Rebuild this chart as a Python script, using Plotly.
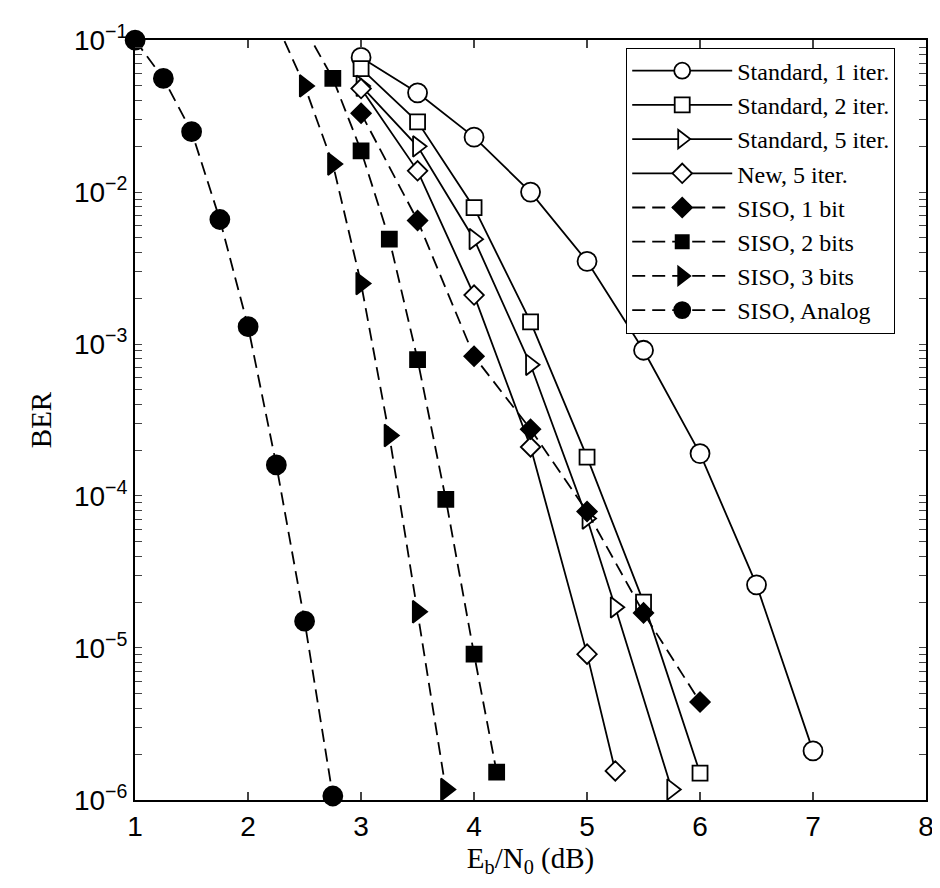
import plotly.graph_objects as go

# Eb/N0 (dB) and BER
x_std1 = [3, 3.5, 4, 4.5, 5, 5.5, 6, 6.5, 7]
ber_std1 = [0.077, 0.045, 0.023, 0.0100, 0.0035, 9.1e-4, 1.9e-4, 2.6e-5, 2.1e-6]

x_std2 = [3, 3.5, 4, 4.5, 5, 5.5, 6]
ber_std2 = [0.065, 0.029, 0.0079, 0.0014, 1.8e-4, 2.0e-5, 1.5e-6]

x_std5 = [3, 3.5, 4, 4.5, 5, 5.25, 5.75]
ber_std5 = [0.050, 0.020, 0.0049, 7.3e-4, 7.1e-5, 1.85e-5, 1.17e-6]

x_new5 = [3, 3.5, 4, 4.5, 5, 5.25]
ber_new5 = [0.048, 0.0138, 0.0021, 2.1e-4, 9.1e-6, 1.55e-6]

x_siso1 = [3, 3.5, 4, 4.5, 5, 5.5, 6]
ber_siso1 = [0.033, 0.0065, 8.3e-4, 2.75e-4, 7.9e-5, 1.7e-5, 4.4e-6]

x_siso2 = [2.5, 2.75, 3, 3.25, 3.5, 3.75, 4, 4.2]
ber_siso2 = [0.12, 0.056, 0.0187, 0.0049, 7.9e-4, 9.5e-5, 9.1e-6, 1.52e-6]

x_siso3 = [2.25, 2.5, 2.75, 3, 3.25, 3.5, 3.75]
ber_siso3 = [0.13, 0.050, 0.0153, 0.0025, 2.5e-4, 1.73e-5, 1.17e-6]

x_analog = [1, 1.25, 1.5, 1.75, 2, 2.25, 2.5, 2.75]
ber_analog = [0.1, 0.056, 0.025, 0.0066, 0.0013, 1.6e-4, 1.5e-5, 1.06e-6]

x_ticks = [1, 2, 3, 4, 5, 6, 7, 8]
y_decades = [-6, -5, -4, -3, -2, -1]

series = [
    ("Standard, 1 iter.", x_std1, ber_std1, "circle", False, "solid", 19),
    ("Standard, 2 iter.", x_std2, ber_std2, "square", False, "solid", 15),
    ("Standard, 5 iter.", x_std5, ber_std5, "triangle-right", False, "solid", 18),
    ("New, 5 iter.", x_new5, ber_new5, "diamond", False, "solid", 15),
    ("SISO, 1 bit", x_siso1, ber_siso1, "diamond", True, "13px,7px", 15),
    ("SISO, 2 bits", x_siso2, ber_siso2, "square", True, "13px,7px", 15),
    ("SISO, 3 bits", x_siso3, ber_siso3, "triangle-right", True, "13px,7px", 19),
    ("SISO, Analog", x_analog, ber_analog, "circle", True, "13px,7px", 19),
]

fig = go.Figure()
for name, xs, ys, sym, filled, dash, size in series:
    # hide markers that fall above the top of the axis (only the line shows there)
    sizes = [size if y <= 0.1001 else 0 for y in ys]
    fig.add_trace(go.Scatter(
        x=xs, y=ys, name=name, mode="lines+markers",
        line=dict(color="black", width=1.8, dash=dash),
        marker=dict(symbol=sym, size=sizes, opacity=1,
                    color="black" if filled else "white",
                    line=dict(color="black", width=1.8)),
        cliponaxis=False,
    ))

# decade labels plus unlabeled 2..9 ticks in every decade
y_tickvals, y_ticktext = [], []
for e in y_decades:
    y_tickvals.append(10.0 ** e)
    y_ticktext.append("10<sup>\u2212%d</sup>" % (-e))
    if e < -1:
        for k in range(2, 10):
            y_tickvals.append(k * 10.0 ** e)
            y_ticktext.append("")

axis_font = dict(family="Liberation Sans, Arial, sans-serif", size=28, color="black")
title_font = dict(family="Liberation Serif, Times New Roman, serif", size=29, color="black")

fig.update_layout(
    width=940, height=888,
    margin=dict(l=127, r=22, t=32, b=96),
    paper_bgcolor="white", plot_bgcolor="white",
    xaxis=dict(range=[0.999, 8], tickvals=x_ticks, ticks="inside", ticklen=8, tickwidth=1.5,
               showline=True, linewidth=2, linecolor="black", mirror="ticks",
               showgrid=False, zeroline=False, tickfont=axis_font, automargin=False,
               title=dict(text="E<sub>b</sub>/N<sub>0</sub> (dB)", font=title_font, standoff=6)),
    yaxis=dict(type="log", range=[-6.001, -0.999], tickmode="array",
               tickvals=y_tickvals, ticktext=y_ticktext,
               ticks="inside", ticklen=7, tickwidth=1.3,
               showline=True, linewidth=2, linecolor="black", mirror="ticks",
               showgrid=False, zeroline=False, tickfont=axis_font, automargin=False,
               title=dict(text="BER", font=title_font, standoff=14)),
    legend=dict(x=0.621, y=0.99, xanchor="left", yanchor="top",
                bgcolor="white", bordercolor="black", borderwidth=1,
                font=dict(family="Liberation Serif, Times New Roman, serif", size=24, color="black"),
                itemwidth=100, tracegroupgap=0),
    showlegend=True,
)

fig.write_html("out.html")
